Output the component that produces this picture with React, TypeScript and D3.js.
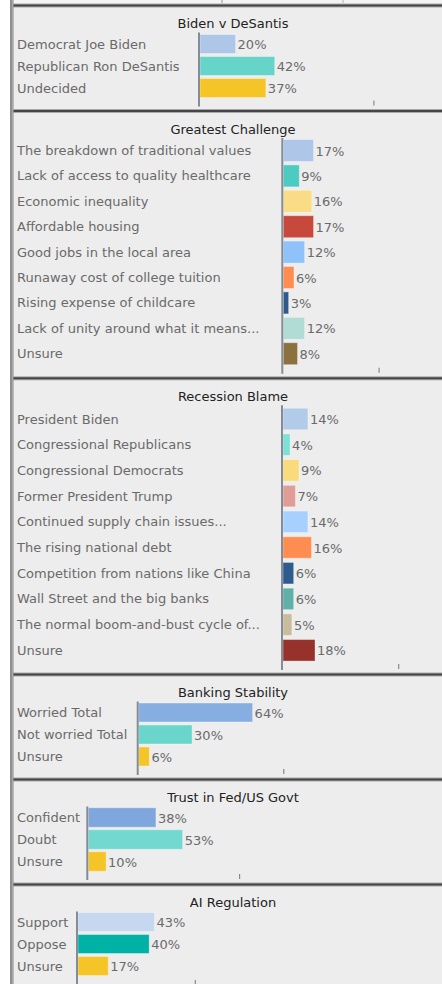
import React from "react";
import * as d3 from "d3";

const W = 442;
const H = 984;

// ---------- DATA ----------
const bidenTitle = "Biden v DeSantis";
const bidenCategories = ["Democrat Joe Biden", "Republican Ron DeSantis", "Undecided"];
const bidenValues = [20, 42, 37];

const challengeTitle = "Greatest Challenge";
const challengeCategories = [
  "The breakdown of traditional values",
  "Lack of access to quality healthcare",
  "Economic inequality",
  "Affordable housing",
  "Good jobs in the local area",
  "Runaway cost of college tuition",
  "Rising expense of childcare",
  "Lack of unity around what it means...",
  "Unsure",
];
const challengeValues = [17, 9, 16, 17, 12, 6, 3, 12, 8];

const blameTitle = "Recession Blame";
const blameCategories = [
  "President Biden",
  "Congressional Republicans",
  "Congressional Democrats",
  "Former President Trump",
  "Continued supply chain issues...",
  "The rising national debt",
  "Competition from nations like China",
  "Wall Street and the big banks",
  "The normal boom-and-bust cycle of...",
  "Unsure",
];
const blameValues = [14, 4, 9, 7, 14, 16, 6, 6, 5, 18];

const bankTitle = "Banking Stability";
const bankCategories = ["Worried Total", "Not worried Total", "Unsure"];
const bankValues = [64, 30, 6];

const trustTitle = "Trust in Fed/US Govt";
const trustCategories = ["Confident", "Doubt", "Unsure"];
const trustValues = [38, 53, 10];

const aiTitle = "AI Regulation";
const aiCategories = ["Support", "Oppose", "Unsure"];
const aiValues = [43, 40, 17];

// tick values (no labels shown)
const bidenTicks = [97.7];
const challengeTicks = [53.8];
const blameTicks = [65];
const bankTicks = [81.5];
const trustTicks = [85];
const aiTicks = [65.9];

// ---------- STYLES ----------
const bidenColors = ["#aec7e8", "#67d4ca", "#f5c426"];
const challengeColors = ["#aec7e8", "#4ecbc1", "#f9dc85", "#c6493c", "#8fc1fb", "#ff8c50", "#2d5a8b", "#b1dcd6", "#8b713d"];
const blameColors = ["#b1cbe8", "#7fe0d6", "#f9da7c", "#e09d97", "#a8d0ff", "#ff8c50", "#2e5b8e", "#5fb0a8", "#c9bc9c", "#96312b"];
const bankColors = ["#86aee0", "#6ad6cb", "#f5c426"];
const trustColors = ["#7fa7dd", "#72d8d0", "#f5c426"];
const aiColors = ["#c5d8f0", "#00b2a5", "#f5c426"];

const FONT = "'DejaVu Sans', Verdana, sans-serif";
const PX_PER_PCT = 1.78;

type PanelSpec = {
  title: string;
  cats: string[];
  vals: number[];
  colors: string[];
  ticks: number[];
  divider: number;
  next: number;
  axisX: number;
  row0: number;
  pitch: number;
  barH: number;
};

const panels: PanelSpec[] = [
  { title: bidenTitle, cats: bidenCategories, vals: bidenValues, colors: bidenColors, ticks: bidenTicks,
    divider: 5, next: 110.5, axisX: 199, row0: 39, pitch: 22, barH: 19 },
  { title: challengeTitle, cats: challengeCategories, vals: challengeValues, colors: challengeColors, ticks: challengeTicks,
    divider: 110.5, next: 377.8, axisX: 282.3, row0: 40, pitch: 25.4, barH: 22 },
  { title: blameTitle, cats: blameCategories, vals: blameValues, colors: blameColors, ticks: blameTicks,
    divider: 377.8, next: 674, axisX: 282, row0: 41.2, pitch: 25.7, barH: 21.5 },
  { title: bankTitle, cats: bankCategories, vals: bankValues, colors: bankColors, ticks: bankTicks,
    divider: 674, next: 779, axisX: 137.7, row0: 38.5, pitch: 22, barH: 19 },
  { title: trustTitle, cats: trustCategories, vals: trustValues, colors: trustColors, ticks: trustTicks,
    divider: 779, next: 884, axisX: 87.3, row0: 38.5, pitch: 22, barH: 19.5 },
  { title: aiTitle, cats: aiCategories, vals: aiValues, colors: aiColors, ticks: aiTicks,
    divider: 884, next: 990, axisX: 77, row0: 38, pitch: 22, barH: 19 },
];

function Panel({ p }: { p: PanelSpec }) {
  const top = p.divider;
  const x = d3.scaleLinear().domain([0, 100]).range([p.axisX + 1, p.axisX + 1 + 100 * PX_PER_PCT]);
  const bandStart = top + p.row0 - p.pitch / 2;
  const y = d3
    .scaleBand<string>()
    .domain(p.cats)
    .range([bandStart, bandStart + p.cats.length * p.pitch])
    .paddingInner((p.pitch - p.barH) / p.pitch)
    .paddingOuter((p.pitch - p.barH) / p.pitch / 2);
  const axisTop = top + 27.5;
  const axisBottom = Math.min(p.next - 4, H + 2);
  return (
    <g>
      <rect x={13} y={top} width={W - 13} height={p.next - top} fill="#ededed" />
      <text x={233} y={top + 18.5} textAnchor="middle" dominantBaseline="central" fontFamily={FONT} fontSize={13} fill="#222">
        {p.title}
      </text>
      {p.cats.map((c, i) => {
        const by = y(c) as number;
        const cy = by + y.bandwidth() / 2;
        const x1 = x(p.vals[i]);
        return (
          <g key={c}>
            <text x={17} y={cy} dominantBaseline="central" fontFamily={FONT} fontSize={13} fill="#6a6a6a">
              {c}
            </text>
            <rect x={x(0)} y={by} width={x1 - x(0)} height={y.bandwidth()} fill={p.colors[i]} stroke="#ffffff" strokeOpacity={0.35} strokeWidth={1} />
            <text x={x1 + 2} y={cy + 0.5} dominantBaseline="central" fontFamily={FONT} fontSize={13} fill="#6a6a6a">
              {p.vals[i]}%
            </text>
          </g>
        );
      })}
      <line x1={p.axisX} x2={p.axisX} y1={axisTop} y2={axisBottom} stroke="#858c96" strokeWidth={2} />
      {p.ticks.map((t) => (
        <line key={t} x1={x(t)} x2={x(t)} y1={axisBottom - 6} y2={axisBottom - 1} stroke="#8a8a8a" strokeWidth={1.2} />
      ))}
    </g>
  );
}

export default function App() {
  return (
    <svg
      width={W}
      height={H}
      style={{ position: "absolute", left: 0, top: 0, display: "block" }}
    >
      <rect x={0} y={0} width={W} height={H} fill="#ffffff" />
      <rect x={13} y={0} width={W - 13} height={5} fill="#f4f4f4" />
      {/* tails of the panel above the visible area */}
      <line x1={222} x2={222} y1={0} y2={3} stroke="#b5b5b5" strokeWidth={1.5} />
      <line x1={343} x2={343} y1={0} y2={3} stroke="#b5b5b5" strokeWidth={1} />
      {panels.map((p) => (
        <Panel key={p.title} p={p} />
      ))}
      {panels.map((p) => (
        <g key={"d" + p.title}>
          <rect x={13} y={p.divider - 1.5} width={W - 13} height={4} fill="#a8a8a8" />
          <rect x={13} y={p.divider - 0.5} width={W - 13} height={2} fill="#454545" />
        </g>
      ))}
      <rect x={10} y={0} width={3.5} height={H} fill="#8f8f8f" />
      <rect x={12} y={0} width={1.2} height={H} fill="#a9a9a9" />
    </svg>
  );
}
